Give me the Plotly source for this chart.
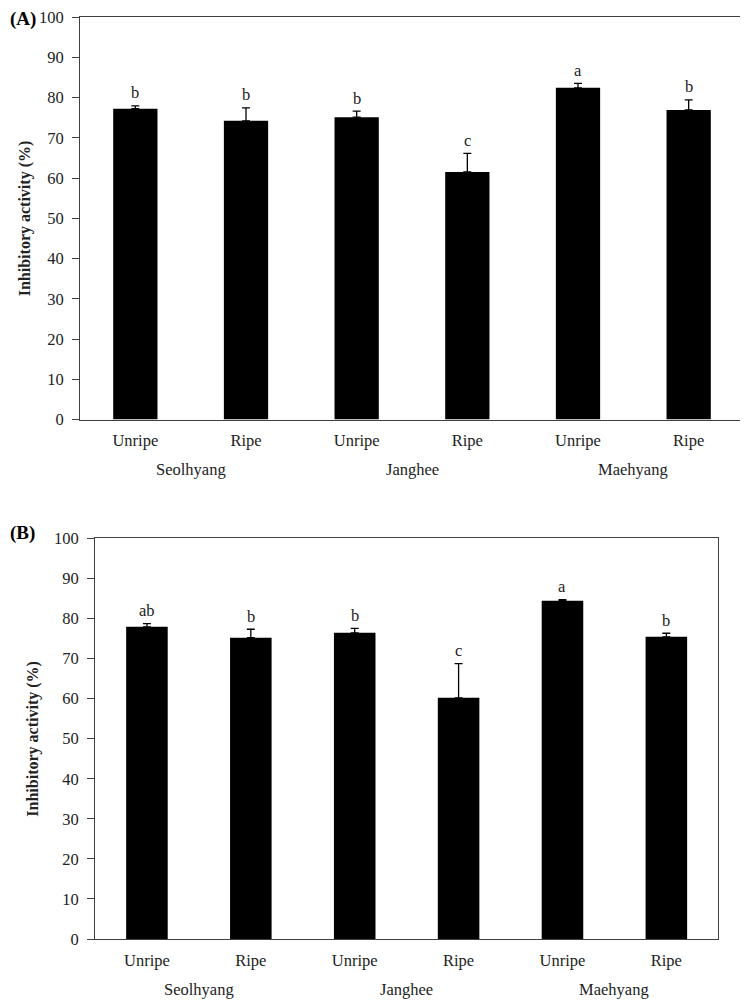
import plotly.graph_objects as go

# data
cultivars = ["Seolhyang", "Janghee", "Maehyang"]
stages = ["Unripe", "Ripe", "Unripe", "Ripe", "Unripe", "Ripe"]
vals_a = [77.2, 74.2, 75.1, 61.5, 82.4, 76.9]
err_a = [0.7, 3.2, 1.5, 4.6, 1.1, 2.5]
sig_a = ["b", "b", "b", "c", "a", "b"]
vals_b = [77.9, 75.2, 76.4, 60.2, 84.4, 75.4]
err_b = [0.8, 2.1, 1.1, 8.5, 0.3, 0.9]
sig_b = ["ab", "b", "b", "c", "a", "b"]
yticks = [0, 10, 20, 30, 40, 50, 60, 70, 80, 90, 100]

FONT = "Liberation Serif, Times New Roman, serif"
TXT = "#222"
pos = list(range(len(stages)))

# the page body has an 8px margin, so the plot sits at (8, 8) in the window
OFF = 8
W, H = 748 - OFF, 1002 - OFF


def px_x(p):
    return (p - OFF) / W


def px_y(p):
    return 1 - (p - OFF) / H


fig = go.Figure()

panels = [
    # values, errors, letters, x domain (px), y domain (px: bottom, top), tag, tag y, title x
    (vals_a, err_a, sig_a, (80, 744), (419.5, 17), "(A)", 19, 25),
    (vals_b, err_b, sig_b, (95, 718.3), (939, 538.3), "(B)", 533, 33),
]

for i, (vals, errs, sigs, xd, yd, tag, tag_y, title_x) in enumerate(panels):
    sfx = "" if i == 0 else "2"
    xa, ya = "x" + sfx, "y" + sfx
    fig.add_trace(go.Bar(
        x=pos, y=vals, xaxis=xa, yaxis=ya, width=0.4,
        marker=dict(color="black", line=dict(width=0)),
        error_y=dict(type="data", array=errs, arrayminus=[0] * len(errs),
                     symmetric=False, color="black", thickness=1.3, width=4),
        showlegend=False))
    axis_common = dict(showline=True, mirror=True, linecolor="#404040", linewidth=1,
                       showgrid=False, zeroline=False, automargin=False,
                       ticklabeloverflow="allow")
    fig.layout["xaxis" + sfx] = dict(
        domain=[px_x(xd[0]), px_x(xd[1])], anchor=ya, range=[-0.5, 5.5],
        tickmode="array", tickvals=pos, ticktext=stages, ticks="",
        ticklabelstandoff=6,
        tickfont=dict(family=FONT, size=16.5, color=TXT), **axis_common)
    fig.layout["yaxis" + sfx] = dict(
        domain=[px_y(yd[0]), px_y(yd[1])], anchor=xa, range=[0, 100], tickvals=yticks,
        ticks="outside", ticklen=7, tickcolor="#404040", ticklabelstandoff=5,
        tickfont=dict(family=FONT, size=16.5, color=TXT), **axis_common)
    # y title
    fig.add_annotation(x=px_x(title_x), y=(px_y(yd[0]) + px_y(yd[1])) / 2,
                       xref="paper", yref="paper", text="<b>Inhibitory activity (%)</b>",
                       textangle=-90, showarrow=False, xanchor="center", yanchor="middle",
                       font=dict(family=FONT, size=16, color=TXT))
    # significance letters
    for p, v, e, s in zip(pos, vals, errs, sigs):
        fig.add_annotation(x=p, y=v + e, xref=xa, yref=ya, text=s, showarrow=False,
                           yanchor="middle", yshift=13,
                           font=dict(family=FONT, size=16.5, color=TXT))
    # cultivar labels
    for k, c in enumerate(cultivars):
        fig.add_annotation(x=2 * k + 0.5, y=0, xref=xa, yref=ya, text=c,
                           showarrow=False, yanchor="middle", yshift=-50,
                           font=dict(family=FONT, size=16.5, color=TXT))
    # panel tag
    fig.add_annotation(x=0, y=px_y(tag_y), xref="paper", yref="paper",
                       text="<b>" + tag + "</b>", showarrow=False,
                       xanchor="left", yanchor="middle",
                       font=dict(family=FONT, size=19, color="black"))

fig.update_layout(width=W, height=H, margin=dict(l=0, r=0, t=0, b=0, pad=0),
                  plot_bgcolor="white", paper_bgcolor="white", bargap=0.6)

fig.write_html("out.html")
